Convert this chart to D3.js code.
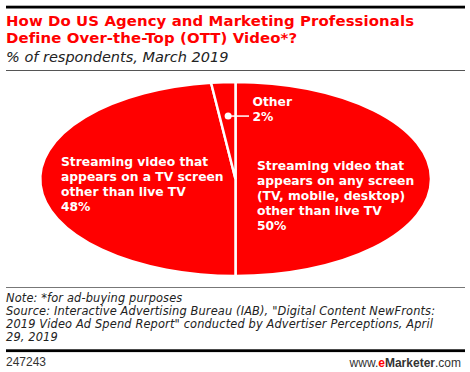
<!DOCTYPE html>
<html>
<head>
<meta charset="utf-8">
<script src="https://cdn.jsdelivr.net/npm/d3@7"></script>
<style>
  body { margin: 0; background: #fff; }
  svg text { font-family: "DejaVu Sans", sans-serif; }
</style>
</head>
<body>
<script>
"use strict"

const categories = ['Streaming video that appears on any screen (TV, mobile, desktop) other than live TV',
   'Streaming video that appears on a TV screen other than live TV',
   'Other']
const values = [50, 48, 2]
const labelLines = [
   ['Streaming video that', 'appears on any screen', '(TV, mobile, desktop)', 'other than live TV', '50%'],
   ['Streaming video that', 'appears on a TV screen', 'other than live TV', '48%'],
   ['Other', '2%']
]
const titleLines = ['How Do US Agency and Marketing Professionals', 'Define Over-the-Top (OTT) Video*?']
const subtitle = '% of respondents, March 2019'
const noteLines = ['Note: *for ad-buying purposes',
   'Source: Interactive Advertising Bureau (IAB), "Digital Content NewFronts:',
   '2019 Video Ad Spend Report" conducted by Advertiser Perceptions, April',
   '29, 2019']

const w = 470, h = 372
const red = '#ff0000'

const svg = d3.select('body').append('svg')
   .attr('width', w)
   .attr('height', h)

svg.append('rect').attr('x', 6).attr('y', 5.7).attr('width', 459).attr('height', 2.8).attr('fill', '#000')

svg.append('g').selectAll('text')
   .data(titleLines)
   .enter()
   .append('text')
      .attr('x', 6)
      .attr('y', (d, i) => 26 + i * 16.5)
      .attr('fill', red)
      .style('font-weight', 'bold')
      .style('font-size', '14.9px')
      .style('letter-spacing', '0.1px')
      .text(d => d)

svg.append('text')
   .attr('x', 6)
   .attr('y', 62)
   .style('font-style', 'italic')
   .style('font-size', '14.5px')
   .attr('fill', '#222')
   .text(subtitle)

svg.append('line').attr('x1', 6).attr('x2', 465).attr('y1', 70.5).attr('y2', 70.5)
   .attr('stroke', '#555').attr('stroke-width', 1)

// pie on a unit circle, squashed into the ellipse
const cx = 235.5, cy = 179, rx = 195.5, ry = 97
const pie = d3.pie().sort(null)(values)
const arc = d3.arc().innerRadius(0).outerRadius(1)

const g = svg.append('g')
   .attr('transform', `translate(${cx},${cy}) scale(${rx},${ry})`)

g.selectAll('path')
   .data(pie)
   .enter()
   .append('path')
      .attr('d', arc)
      .attr('fill', red)
      .attr('stroke', '#fff')
      .attr('stroke-width', 2.5)
      .attr('vector-effect', 'non-scaling-stroke')

const labelPos = [[257, 170], [61, 166], [252.5, 106]]

labelLines.forEach((lines, k) => {
   svg.append('g').selectAll('text')
      .data(lines)
      .enter()
      .append('text')
         .attr('x', labelPos[k][0])
         .attr('y', (d, i) => labelPos[k][1] + i * (k == 2 ? 14.7 : 15))
         .attr('fill', '#fff')
         .style('font-weight', 'bold')
         .style('font-size', '12.3px')
         .text(d => d)
})

// leader for the small slice
const otherMid = (pie[2].startAngle + pie[2].endAngle) / 2
const dotX = cx + rx * 0.6 * Math.sin(otherMid)
const dotY = cy - ry * 0.65 * Math.cos(otherMid)
svg.append('line')
   .attr('x1', dotX).attr('y1', dotY)
   .attr('x2', 249).attr('y2', dotY)
   .attr('stroke', '#fff').attr('stroke-width', 1.5)
svg.append('circle')
   .attr('cx', dotX).attr('cy', dotY).attr('r', 3.5)
   .attr('fill', '#fff')

svg.append('line').attr('x1', 6).attr('x2', 465).attr('y1', 287.5).attr('y2', 287.5)
   .attr('stroke', '#777').attr('stroke-width', 1)

svg.append('g').selectAll('text')
   .data(noteLines)
   .enter()
   .append('text')
      .attr('x', 6)
      .attr('y', (d, i) => 301.5 + i * 13.3)
      .style('font-style', 'italic')
      .style('font-size', '11.4px')
      .style('letter-spacing', '0.14px')
      .attr('fill', '#222')
      .text(d => d)

svg.append('rect').attr('x', 6).attr('y', 349.3).attr('width', 459).attr('height', 2.8).attr('fill', '#000')

svg.append('text')
   .attr('x', 6).attr('y', 366)
   .style('font-family', '"Liberation Sans", Arial, sans-serif')
   .style('font-size', '12px')
   .attr('fill', '#333')
   .text('247243')

const site = svg.append('text')
   .attr('x', 461).attr('y', 366.5)
   .attr('text-anchor', 'end')
   .style('font-family', '"Liberation Sans", Arial, sans-serif')
   .style('font-size', '12px')
   .attr('fill', '#333')
site.append('tspan').text('www.')
site.append('tspan').attr('fill', red).style('font-weight', 'bold').text('e')
site.append('tspan').style('font-weight', 'bold').text('Marketer')
site.append('tspan').text('.com')
</script>
</body>
</html>
